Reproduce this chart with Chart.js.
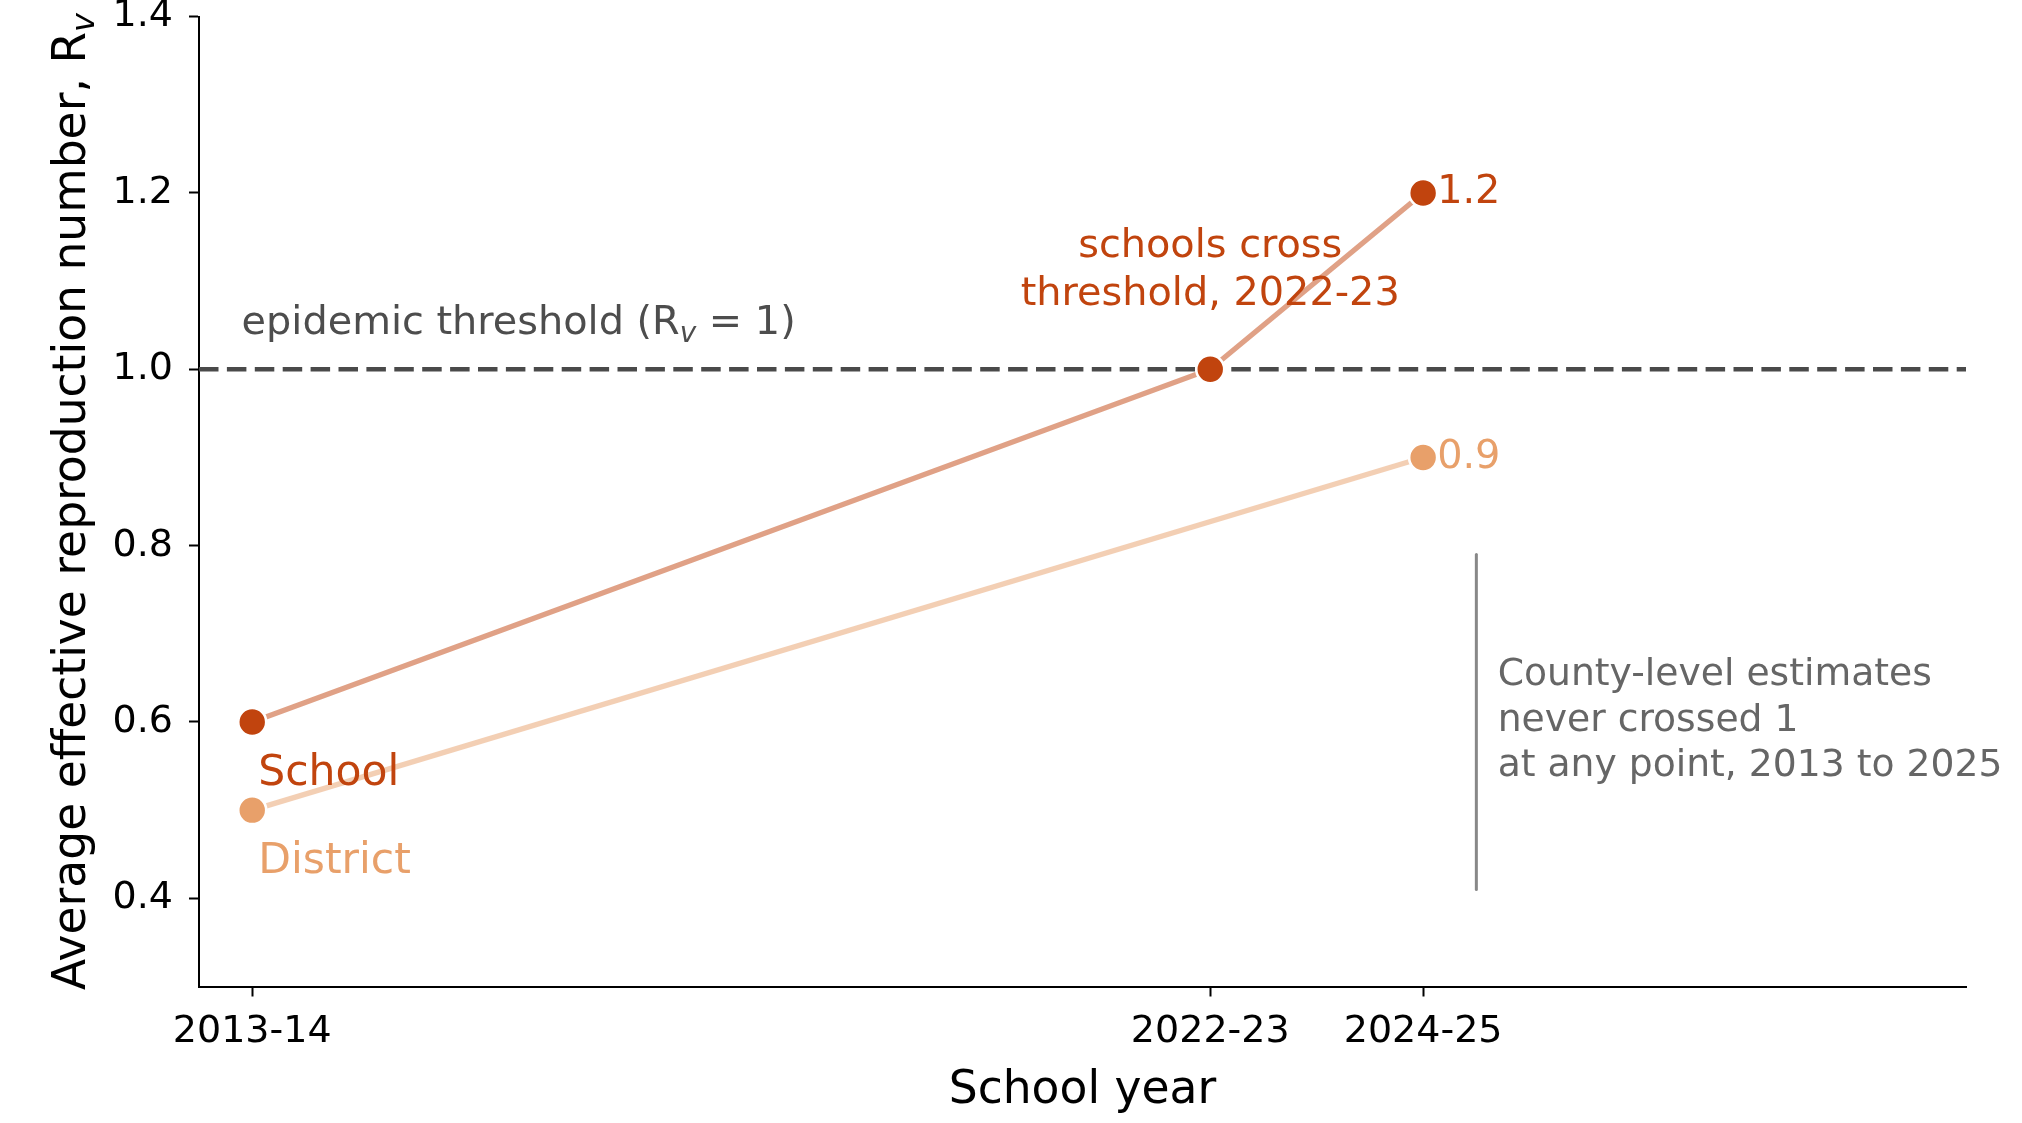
<!DOCTYPE html>
<html>
<head>
<meta charset="utf-8">
<script src="https://cdn.jsdelivr.net/npm/chart.js@4.4.1/dist/chart.umd.min.js"></script>
<style>
  html, body { margin: 0; padding: 0; background: #ffffff; }
  #wrap { width: 2022px; height: 1123px; }
</style>
</head>
<body>
<div id="wrap"><canvas id="c" width="2022" height="1123"></canvas></div>
<script>
// ---- data ----
const years = [2013, 2022, 2024];
const xTickLabels = ['2013-14', '2022-23', '2024-25'];
const schoolValues = [0.6, 1.0, 1.2];
const districtValues = [0.5, null, 0.9];
const yTicks = [0.4, 0.6, 0.8, 1.0, 1.2, 1.4];
const seriesNames = ['School', 'District'];
const thresholdValue = 1.0;
const xTitle = 'School year';
const yTitle = 'Average effective reproduction number, R';
const thresholdLabel = 'epidemic threshold (R';
const crossLabel = ['schools cross', 'threshold, 2022-23'];
const crossYear = 2022;
const countyNote = ['County-level estimates', 'never crossed 1', 'at any point, 2013 to 2025'];
const countyLine = { x: 2024.5, y0: 0.41, y1: 0.79 };
const countyTextX = 2024.7;

// ---- style ----
const FONT = '"DejaVu Sans", "Liberation Sans", sans-serif';
const schoolColor = '#c1440e';
const districtColor = '#e8a06a';
const schoolLine = 'rgba(193,68,14,0.5)';
const districtLine = 'rgba(232,160,106,0.5)';

function toPoints(vals) {
  const out = [];
  vals.forEach((v, i) => { if (v !== null) out.push({ x: years[i], y: v }); });
  return out;
}

function drawRuns(ctx, runs, x, y, align) {
  let total = 0;
  runs.forEach(r => { ctx.font = r.font; r.w = ctx.measureText(r.text).width; total += r.w; });
  let cx = align === 'center' ? x - total / 2 : (align === 'right' ? x - total : x);
  ctx.textAlign = 'left';
  runs.forEach(r => { ctx.font = r.font; ctx.fillText(r.text, cx, y + (r.dy || 0)); cx += r.w; });
  return total;
}

const annotPlugin = {
  id: 'annot',
  beforeDatasetsDraw(chart) {
    const { ctx, chartArea } = chart;
    const ys = chart.scales.y;
    const yy = ys.getPixelForValue(thresholdValue);
    ctx.save();
    ctx.strokeStyle = '#4a4a4a';
    ctx.lineWidth = 4.6;
    ctx.setLineDash([19.5, 8.4]);
    ctx.beginPath();
    ctx.moveTo(chartArea.left, yy);
    ctx.lineTo(chartArea.right, yy);
    ctx.stroke();
    ctx.restore();
  },
  afterDatasetsDraw(chart) {
    const { ctx } = chart;
    const xs = chart.scales.x, ys = chart.scales.y;
    ctx.save();
    ctx.textBaseline = 'alphabetic';

    // threshold label
    ctx.fillStyle = '#4d4d4d';
    const s1 = 39.8;
    drawRuns(ctx, [
      { text: thresholdLabel, font: `${s1}px ${FONT}` },
      { text: 'v', font: `italic ${s1 * 0.7}px ${FONT}`, dy: s1 * 0.2 },
      { text: ' = 1)', font: `${s1}px ${FONT}` }
    ], xs.getPixelForValue(2012.9), ys.getPixelForValue(1.04), 'left');

    // schools cross label
    ctx.fillStyle = schoolColor;
    ctx.font = `${s1}px ${FONT}`;
    ctx.textAlign = 'center';
    const cx = xs.getPixelForValue(crossYear);
    const cy = ys.getPixelForValue(1.07) - 3;
    ctx.fillText(crossLabel[0], cx, cy - s1 * 1.2);
    ctx.fillText(crossLabel[1], cx, cy);

    // end value labels and series labels
    const sets = [
      { vals: schoolValues, color: schoolColor, name: seriesNames[0] },
      { vals: districtValues, color: districtColor, name: seriesNames[1] }
    ];
    sets.forEach(s => {
      const last = s.vals.length - 1;
      const px = xs.getPixelForValue(years[last]);
      const py = ys.getPixelForValue(s.vals[last]);
      ctx.fillStyle = s.color;
      ctx.font = `${s1}px ${FONT}`;
      ctx.textAlign = 'left';
      ctx.fillText(s.vals[last].toFixed(1), px + 14, py + s1 * 0.729 / 2 - 4);
      const fx = xs.getPixelForValue(years[0]);
      const fy = ys.getPixelForValue(s.vals[0] - 0.071);
      ctx.font = `42.5px ${FONT}`;
      ctx.fillText(s.name, fx + 6, fy);
    });

    // county note line
    ctx.strokeStyle = '#888888';
    ctx.lineWidth = 3;
    ctx.lineCap = 'round';
    ctx.beginPath();
    const lx = xs.getPixelForValue(countyLine.x);
    ctx.moveTo(lx, ys.getPixelForValue(countyLine.y1));
    ctx.lineTo(lx, ys.getPixelForValue(countyLine.y0));
    ctx.stroke();

    ctx.fillStyle = '#666666';
    const sc = 37.7;
    ctx.font = `${sc}px ${FONT}`;
    ctx.textAlign = 'left';
    const tx = xs.getPixelForValue(countyTextX);
    const midY = ys.getPixelForValue((countyLine.y0 + countyLine.y1) / 2) - 5;
    const lh = sc * 1.2;
    countyNote.forEach((t, i) => {
      ctx.fillText(t, tx, midY + (i - 1) * lh + sc * 0.729 / 2);
    });
    ctx.restore();
  },
  afterDraw(chart) {
    const { ctx, chartArea } = chart;
    ctx.save();
    ctx.fillStyle = '#000000';
    ctx.textBaseline = 'alphabetic';
    const st = 45.6;
    // x title
    ctx.font = `${st}px ${FONT}`;
    ctx.textAlign = 'center';
    ctx.fillText(xTitle, (chartArea.left + chartArea.right) / 2, 1103);
    // y title
    ctx.translate(85, (chartArea.top + chartArea.bottom) / 2);
    ctx.rotate(-Math.PI / 2);
    drawRuns(ctx, [
      { text: yTitle, font: `${st}px ${FONT}` },
      { text: 'v', font: `italic ${st * 0.7}px ${FONT}`, dy: st * 0.2 }
    ], 0, 0, 'center');
    ctx.restore();
  }
};

new Chart(document.getElementById('c'), {
  type: 'line',
  data: {
    datasets: [
      {
        label: seriesNames[0],
        data: toPoints(schoolValues),
        borderColor: schoolLine,
        borderWidth: 5.3,
        pointRadius: 14,
        pointBorderWidth: 2.6,
        pointBackgroundColor: schoolColor,
        pointBorderColor: '#ffffff',
        tension: 0
      },
      {
        label: seriesNames[1],
        data: toPoints(districtValues),
        borderColor: districtLine,
        borderWidth: 5.3,
        pointRadius: 14,
        pointBorderWidth: 2.6,
        pointBackgroundColor: districtColor,
        pointBorderColor: '#ffffff',
        tension: 0
      }
    ]
  },
  options: {
    responsive: false,
    devicePixelRatio: 1,
    animation: false,
    events: [],
    layout: { padding: { top: 15.5, right: 56, left: 0, bottom: 0 } },
    plugins: { legend: { display: false }, tooltip: { enabled: false }, title: { display: false } },
    scales: {
      x: {
        type: 'linear',
        min: 2012.5,
        max: 2029.1,
        afterBuildTicks(scale) { scale.ticks = years.map(v => ({ value: v })); },
        afterFit(scale) { scale.height = 1123 - 986.5; scale.paddingLeft = 0; scale.paddingRight = 0; },
        ticks: {
          autoSkip: false,
          maxRotation: 0,
          color: '#000000',
          font: { family: FONT, size: 38 },
          padding: 13,
          callback: (v) => { const i = years.indexOf(v); return i >= 0 ? xTickLabels[i] : ''; }
        },
        grid: { display: true, drawOnChartArea: false, drawTicks: true, tickLength: 10, tickWidth: 2, tickColor: '#000000' },
        border: { display: true, color: '#000000', width: 2 }
      },
      y: {
        type: 'linear',
        min: 0.3,
        max: 1.4,
        afterBuildTicks(scale) { scale.ticks = yTicks.map(v => ({ value: v })); },
        afterFit(scale) { scale.width = 199; scale.paddingTop = 0; scale.paddingBottom = 0; },
        ticks: {
          color: '#000000',
          font: { family: FONT, size: 38 },
          padding: 16,
          callback: (v) => Number(v).toFixed(1)
        },
        grid: { display: true, drawOnChartArea: false, drawTicks: true, tickLength: 10, tickWidth: 2, tickColor: '#000000' },
        border: { display: true, color: '#000000', width: 2 }
      }
    }
  },
  plugins: [annotPlugin]
});
</script>
</body>
</html>
